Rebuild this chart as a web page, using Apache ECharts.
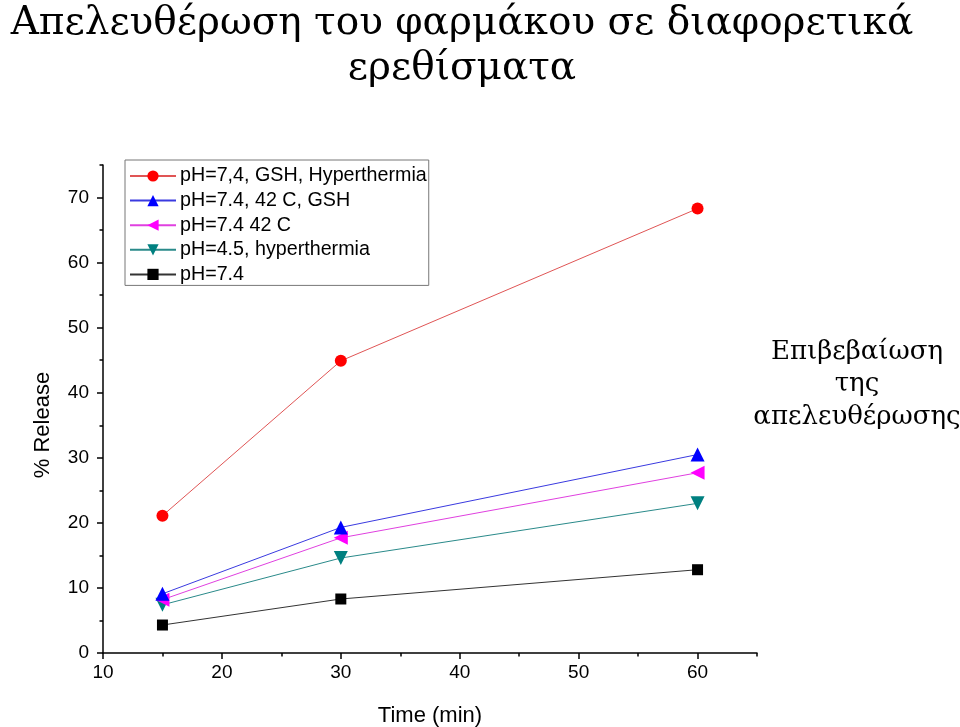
<!DOCTYPE html>
<html>
<head>
<meta charset="utf-8">
<script src="https://cdn.jsdelivr.net/npm/echarts@6/dist/echarts.min.js"></script>
<style>html,body{margin:0;padding:0;background:#fff;}#chart{width:960px;height:727px;}</style>
</head>
<body>
<div id="chart"></div>
<script>
const times = [15, 30, 60];
const seriesNames = ['pH=7,4, GSH, Hyperthermia', 'pH=7.4, 42 C, GSH', 'pH=7.4 42 C', 'pH=4.5, hyperthermia', 'pH=7.4'];
const redValues = [21.1, 44.9, 68.3];
const blueValues = [9.1, 19.3, 30.5];
const magentaValues = [8.2, 17.7, 27.7];
const tealValues = [7.4, 14.6, 23.0];
const blackValues = [4.3, 8.3, 12.8];
const yMajorTicks = [0, 10, 20, 30, 40, 50, 60, 70];
const xMajorTicks = [10, 20, 30, 40, 50, 60];
const titleText = 'Απελευθέρωση του φαρμάκου σε διαφορετικά\nερεθίσματα';
const noteLines = ['Επιβεβαίωση', 'της', 'απελευθέρωσης'];

const seriesValues = [redValues, blueValues, magentaValues, tealValues, blackValues];
const colors = ['#ff0000', '#0000ff', '#ff00ff', '#008080', '#000000'];
const lineColors = ['#e05555', '#3a3ae0', '#e040e0', '#2a8a8a', '#333333'];
const symbols = ['circle', 'triangle', 'triangle', 'triangle', 'rect'];
const rotates = [0, 0, 90, 180, 0];
const sizes = [12, 14, 14, 14, 11];

const chart = echarts.init(document.getElementById('chart'));
const sans = 'Liberation Sans, Arial, sans-serif';
const serif = 'DejaVu Serif, serif';

const series = seriesNames.map((n, i) => ({
  name: n,
  type: 'line',
  xAxisIndex: 0,
  yAxisIndex: 0,
  data: times.map((t, j) => [t, seriesValues[i][j]]),
  symbol: symbols[i],
  symbolSize: sizes[i],
  symbolRotate: rotates[i],
  showAllSymbol: true,
  itemStyle: { color: colors[i] },
  lineStyle: { color: lineColors[i], width: 1 },
  emphasis: { disabled: true },
  animation: false,
  z: 10 - i
}));

const option = {
  animation: false,
  backgroundColor: '#fff',
  title: {
    text: titleText,
    left: 457,
    top: -4,
    textAlign: 'center',
    textStyle: { fontFamily: serif, fontWeight: 'normal', fontSize: 39, color: '#000', lineHeight: 45, align: 'center' }
  },
  graphic: noteLines.map((t, i) => ({
    type: 'text',
    x: 857,
    y: 352 + i * 32.5,
    style: { text: t, font: '26px ' + serif, fill: '#000', align: 'center', verticalAlign: 'middle' }
  })),
  legend: {
    orient: 'vertical',
    left: 125,
    top: 160,
    padding: [6, 2, 1, 4],
    itemWidth: 46,
    itemHeight: 14,
    itemGap: 4.6,
    borderColor: '#777',
    borderWidth: 1,
    textStyle: { fontFamily: sans, fontSize: 19.7, lineHeight: 20, color: '#000', padding: [0, 0, 0, -1] },
    data: seriesNames
  },
  grid: { left: 103, right: 203, top: 165, bottom: 74, containLabel: false, outerBoundsMode: 'none' },
  xAxis: [
    {
      type: 'value', min: 10, max: 65, interval: 10, position: 'bottom',
      axisLine: { show: true, onZero: false, lineStyle: { color: '#000', width: 1.5 } },
      axisTick: { show: true, inside: false, length: 6, customValues: xMajorTicks, lineStyle: { color: '#000', width: 1.5 } },
      axisLabel: { customValues: xMajorTicks, fontFamily: sans, fontSize: 19, color: '#000', margin: 10 },
      splitLine: { show: false },
      name: 'Time (min)', nameLocation: 'middle', nameGap: 52,
      nameTextStyle: { fontFamily: sans, fontSize: 22, color: '#000' }
    },
    {
      type: 'value', min: 10, max: 65, interval: 5, position: 'bottom',
      axisLine: { show: false },
      axisTick: { show: true, inside: false, length: 3.5, lineStyle: { color: '#000', width: 1.5 } },
      axisLabel: { show: false },
      splitLine: { show: false }
    }
  ],
  yAxis: [
    {
      type: 'value', min: 0, max: 75, interval: 10, position: 'left',
      axisLine: { show: true, onZero: false, lineStyle: { color: '#000', width: 1.5 } },
      axisTick: { show: true, inside: false, length: 6, customValues: yMajorTicks, lineStyle: { color: '#000', width: 1.5 } },
      axisLabel: { customValues: yMajorTicks, fontFamily: sans, fontSize: 19, color: '#000', margin: 14 },
      splitLine: { show: false },
      name: '% Release', nameLocation: 'middle', nameGap: 49, nameRotate: 90,
      nameTextStyle: { fontFamily: sans, fontSize: 22, color: '#000', padding: [0, 32, 0, 0] }
    },
    {
      type: 'value', min: 0, max: 75, interval: 5, position: 'left',
      axisLine: { show: false },
      axisTick: { show: true, inside: false, length: 3.5, lineStyle: { color: '#000', width: 1.5 } },
      axisLabel: { show: false },
      splitLine: { show: false }
    }
  ],
  series: series
};
chart.setOption(option);
</script>
</body>
</html>
